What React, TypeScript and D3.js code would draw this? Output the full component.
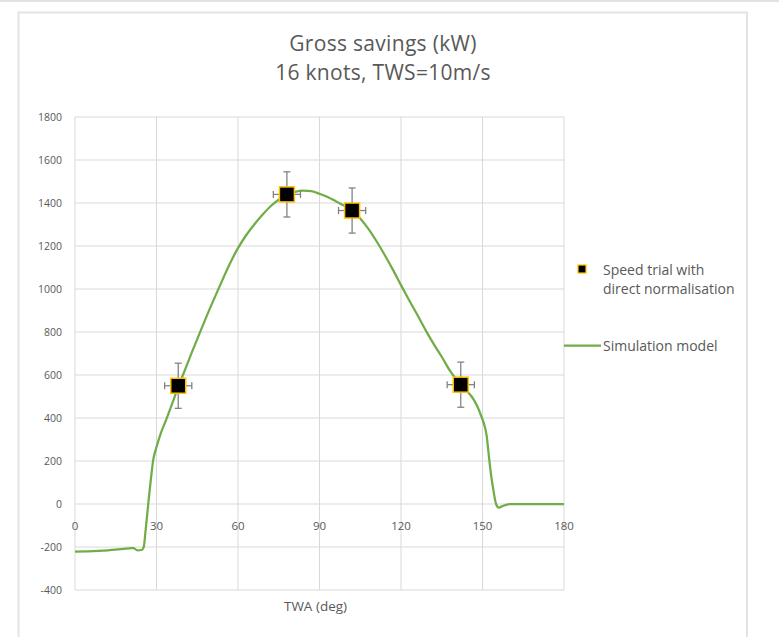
import React from "react";
import * as d3 from "d3";

// Simulation model curve: true wind angle (deg) vs gross savings (kW)
const simTwa = [0, 5, 10, 15, 20, 21.5, 23, 24.5, 25.3, 26, 27, 27.9, 28.8, 30, 31.6, 33.5, 36, 38, 40, 43, 46, 49, 52.8, 57, 60, 63, 66, 69, 72, 75, 78, 81, 84, 87, 90, 93, 96, 99, 102, 105, 108, 111, 114, 117, 120, 123, 126, 129, 132, 135, 138, 140, 142, 144, 146, 148, 149.5, 150.5, 151.5, 152.2, 153, 154, 155, 156, 157.4, 160, 170, 180];
const simKw = [-222, -220, -217, -212, -206, -205, -216, -214, -200, -121, 5, 112, 205, 265, 330, 390, 475, 545, 608, 705, 798, 890, 1000, 1118, 1190, 1250, 1300, 1345, 1385, 1415, 1438, 1452, 1458, 1455, 1443, 1428, 1408, 1388, 1368, 1328, 1280, 1222, 1158, 1090, 1018, 948, 880, 810, 745, 685, 620, 585, 555, 528, 500, 457, 410, 375, 320, 240, 150, 65, 0, -17, -9, 0, 0, 0];

// Speed trial results with direct normalisation
const trialTwa = [38, 78, 102, 142];
const trialKw = [550, 1440, 1365, 555];
const trialErrKw = [105, 105, 105, 105];
const trialErrTwa = [5, 5, 5, 5];

const xTicks = [0, 30, 60, 90, 120, 150, 180];
const yTicks = [-400, -200, 0, 200, 400, 600, 800, 1000, 1200, 1400, 1600, 1800];

const titleLines = ["Gross savings (kW)", "16 knots, TWS=10m/s"];
const xTitle = "TWA (deg)";
const legendTrial = ["Speed trial with", "direct normalisation"];
const legendSim = "Simulation model";

const W = 779;
const H = 637;
const FONT = "'Open Sans', Lato, sans-serif";
const TEXT = "#595959";
const GRID = "#d9d9d9";
const GREEN = "#70ad47";

export default function App() {
  const x = d3.scaleLinear().domain([0, 180]).range([75, 564]);
  const y = d3.scaleLinear().domain([-400, 1800]).range([590, 117]);

  const line = d3
    .line<number>()
    .x((_, i) => x(simTwa[i]))
    .y((d) => y(d))
    .curve(d3.curveMonotoneX);

  const ms = 15;
  const cap = 3.5;

  return (
    <svg
      width={W}
      height={H}
      style={{ position: "absolute", left: 0, top: 0, display: "block" }}
      fontFamily={FONT}
    >
      <rect x={0} y={0} width={W} height={H} fill="#fff" />
      <rect x={0} y={0} width={W} height={2} fill="#e0e3e3" />
      {/* chart frame */}
      <path d={`M18.5,${H} V12.5 H747 V${H}`} fill="none" stroke="#e3e3e3" strokeWidth={2} />

      {/* title */}
      {titleLines.map((t, i) => (
        <text key={t} x={383} y={51 + i * 29} textAnchor="middle" fontSize={21} letterSpacing={0.3} fill={TEXT}>
          {t}
        </text>
      ))}

      {/* gridlines */}
      {yTicks.map((v) => (
        <line key={"gy" + v} x1={x(0)} x2={x(180)} y1={y(v)} y2={y(v)} stroke={GRID} strokeWidth={1} />
      ))}
      {xTicks.map((v) => (
        <line key={"gx" + v} x1={x(v)} x2={x(v)} y1={y(1800)} y2={y(-400)} stroke={GRID} strokeWidth={1} />
      ))}

      {/* tick labels */}
      {yTicks.map((v) => (
        <text key={"ty" + v} x={62} y={y(v) + 4} textAnchor="end" fontSize={10.5} fill={TEXT}>
          {v}
        </text>
      ))}
      {xTicks.map((v) => (
        <text key={"tx" + v} x={x(v)} y={y(0) + 26} textAnchor="middle" fontSize={11.5} fill={TEXT}>
          {v}
        </text>
      ))}
      <text x={(x(0) + x(180)) / 2 - 4} y={611} textAnchor="middle" fontSize={13.5} fill={TEXT}>
        {xTitle}
      </text>

      {/* simulation model */}
      <path d={line(simKw) || ""} fill="none" stroke={GREEN} strokeWidth={2.25} strokeLinejoin="round" />

      {/* speed trial points with error bars */}
      {trialTwa.map((t, i) => {
        const cx = x(t);
        const cy = y(trialKw[i]);
        const y0 = y(trialKw[i] - trialErrKw[i]);
        const y1 = y(trialKw[i] + trialErrKw[i]);
        const x0 = x(t - trialErrTwa[i]);
        const x1 = x(t + trialErrTwa[i]);
        return (
          <g key={"pt" + i} stroke="#7f7f7f" strokeWidth={1.25}>
            <line x1={cx} x2={cx} y1={y0} y2={y1} />
            <line x1={cx - cap} x2={cx + cap} y1={y0} y2={y0} />
            <line x1={cx - cap} x2={cx + cap} y1={y1} y2={y1} />
            <line x1={x0} x2={x1} y1={cy} y2={cy} />
            <line x1={x0} x2={x0} y1={cy - cap} y2={cy + cap} />
            <line x1={x1} x2={x1} y1={cy - cap} y2={cy + cap} />
            <rect
              x={cx - ms / 2}
              y={cy - ms / 2}
              width={ms}
              height={ms}
              fill="#000"
              stroke="#ffc000"
              strokeWidth={1.5}
            />
          </g>
        );
      })}

      {/* legend */}
      <rect x={578} y={265} width={8} height={8} fill="#000" stroke="#ffc000" strokeWidth={1.25} />
      {legendTrial.map((t, i) => (
        <text key={t} x={603} y={275 + i * 19} fontSize={14} fill={TEXT}>
          {t}
        </text>
      ))}
      <line x1={564} x2={601} y1={345.5} y2={345.5} stroke={GREEN} strokeWidth={2.25} />
      <text x={603} y={351} fontSize={14} fill={TEXT}>
        {legendSim}
      </text>
    </svg>
  );
}
